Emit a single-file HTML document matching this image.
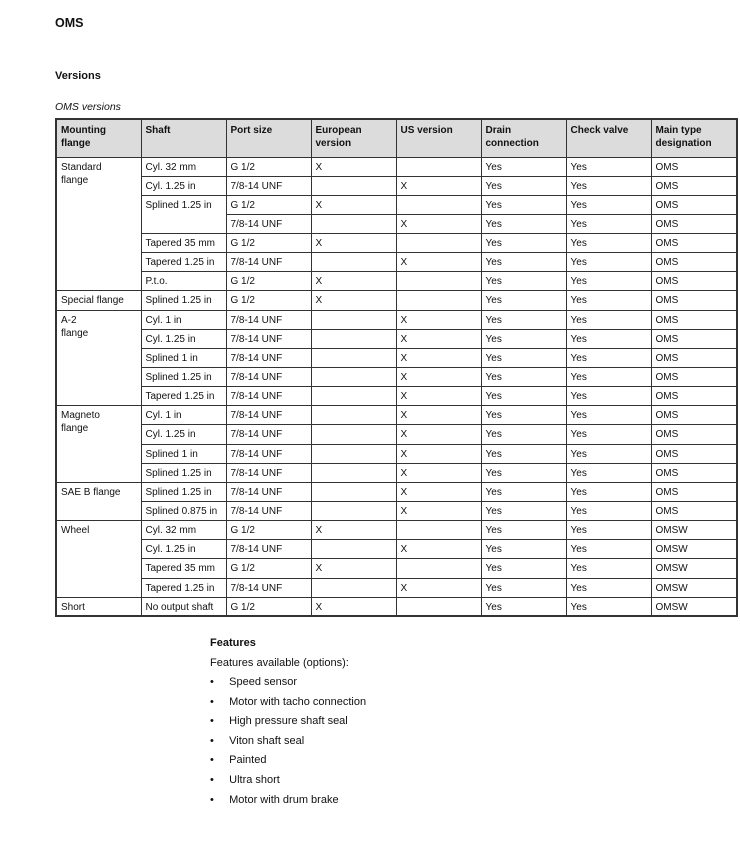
<!DOCTYPE html>
<html><head><meta charset="utf-8"><style>
body{margin:0;width:740px;height:861px;background:#fff;font-family:"Liberation Sans",sans-serif;color:#111;position:relative;overflow:hidden}
.a{position:absolute;white-space:nowrap}
table{position:absolute;left:55px;top:118px;width:681px;border-collapse:collapse;table-layout:fixed;font-size:10px;border:2px solid #333}
td,th{border:1px solid #333;padding:0 0 0 4px;vertical-align:top;text-align:left;line-height:13px}
th{background:#dcdcdc;font-weight:bold;height:38px;padding-top:4px;box-sizing:border-box}
td{height:19.15px;box-sizing:border-box;padding-top:3px}
</style></head><body>
<div class="a" style="left:55px;top:16px;font-size:12.5px;font-weight:bold">OMS</div>
<div class="a" style="left:55px;top:70px;font-size:11px;font-weight:bold">Versions</div>
<div class="a" style="left:55px;top:101px;font-size:10.5px;font-style:italic">OMS versions</div>
<table>
<colgroup><col style="width:85px"><col style="width:85px"><col style="width:85px"><col style="width:85px"><col style="width:85px"><col style="width:85px"><col style="width:85px"><col style="width:86px"></colgroup>
<tr><th>Mounting<br>flange</th><th>Shaft</th><th>Port size</th><th>European<br>version</th><th>US version</th><th>Drain<br>connection</th><th>Check valve</th><th>Main type<br>designation</th></tr>
<tr><td rowspan="7">Standard<br>flange</td><td>Cyl. 32 mm</td><td>G 1/2</td><td>X</td><td></td><td>Yes</td><td>Yes</td><td>OMS</td></tr>
<tr><td>Cyl. 1.25 in</td><td>7/8-14 UNF</td><td></td><td>X</td><td>Yes</td><td>Yes</td><td>OMS</td></tr>
<tr><td rowspan="2">Splined 1.25 in</td><td>G 1/2</td><td>X</td><td></td><td>Yes</td><td>Yes</td><td>OMS</td></tr>
<tr><td>7/8-14 UNF</td><td></td><td>X</td><td>Yes</td><td>Yes</td><td>OMS</td></tr>
<tr><td>Tapered 35 mm</td><td>G 1/2</td><td>X</td><td></td><td>Yes</td><td>Yes</td><td>OMS</td></tr>
<tr><td>Tapered 1.25 in</td><td>7/8-14 UNF</td><td></td><td>X</td><td>Yes</td><td>Yes</td><td>OMS</td></tr>
<tr><td>P.t.o.</td><td>G 1/2</td><td>X</td><td></td><td>Yes</td><td>Yes</td><td>OMS</td></tr>
<tr><td>Special flange</td><td>Splined 1.25 in</td><td>G 1/2</td><td>X</td><td></td><td>Yes</td><td>Yes</td><td>OMS</td></tr>
<tr><td rowspan="5">A-2<br>flange</td><td>Cyl. 1 in</td><td>7/8-14 UNF</td><td></td><td>X</td><td>Yes</td><td>Yes</td><td>OMS</td></tr>
<tr><td>Cyl. 1.25 in</td><td>7/8-14 UNF</td><td></td><td>X</td><td>Yes</td><td>Yes</td><td>OMS</td></tr>
<tr><td>Splined 1 in</td><td>7/8-14 UNF</td><td></td><td>X</td><td>Yes</td><td>Yes</td><td>OMS</td></tr>
<tr><td>Splined 1.25 in</td><td>7/8-14 UNF</td><td></td><td>X</td><td>Yes</td><td>Yes</td><td>OMS</td></tr>
<tr><td>Tapered 1.25 in</td><td>7/8-14 UNF</td><td></td><td>X</td><td>Yes</td><td>Yes</td><td>OMS</td></tr>
<tr><td rowspan="4">Magneto<br>flange</td><td>Cyl. 1 in</td><td>7/8-14 UNF</td><td></td><td>X</td><td>Yes</td><td>Yes</td><td>OMS</td></tr>
<tr><td>Cyl. 1.25 in</td><td>7/8-14 UNF</td><td></td><td>X</td><td>Yes</td><td>Yes</td><td>OMS</td></tr>
<tr><td>Splined 1 in</td><td>7/8-14 UNF</td><td></td><td>X</td><td>Yes</td><td>Yes</td><td>OMS</td></tr>
<tr><td>Splined 1.25 in</td><td>7/8-14 UNF</td><td></td><td>X</td><td>Yes</td><td>Yes</td><td>OMS</td></tr>
<tr><td rowspan="2">SAE B flange</td><td>Splined 1.25 in</td><td>7/8-14 UNF</td><td></td><td>X</td><td>Yes</td><td>Yes</td><td>OMS</td></tr>
<tr><td>Splined 0.875 in</td><td>7/8-14 UNF</td><td></td><td>X</td><td>Yes</td><td>Yes</td><td>OMS</td></tr>
<tr><td rowspan="4">Wheel</td><td>Cyl. 32 mm</td><td>G 1/2</td><td>X</td><td></td><td>Yes</td><td>Yes</td><td>OMSW</td></tr>
<tr><td>Cyl. 1.25 in</td><td>7/8-14 UNF</td><td></td><td>X</td><td>Yes</td><td>Yes</td><td>OMSW</td></tr>
<tr><td>Tapered 35 mm</td><td>G 1/2</td><td>X</td><td></td><td>Yes</td><td>Yes</td><td>OMSW</td></tr>
<tr><td>Tapered 1.25 in</td><td>7/8-14 UNF</td><td></td><td>X</td><td>Yes</td><td>Yes</td><td>OMSW</td></tr>
<tr><td>Short</td><td>No output shaft</td><td>G 1/2</td><td>X</td><td></td><td>Yes</td><td>Yes</td><td>OMSW</td></tr>
</table>
<div class="a" style="left:210px;top:637px;font-size:11px;font-weight:bold">Features</div>
<div class="a" style="left:210px;top:657px;font-size:11px">Features available (options):</div>
<div style="position:absolute;left:210px;top:673px;font-size:11px;line-height:19.6px">
<div>•&nbsp;&nbsp;&nbsp;&nbsp;&nbsp;Speed sensor</div>
<div>•&nbsp;&nbsp;&nbsp;&nbsp;&nbsp;Motor with tacho connection</div>
<div>•&nbsp;&nbsp;&nbsp;&nbsp;&nbsp;High pressure shaft seal</div>
<div>•&nbsp;&nbsp;&nbsp;&nbsp;&nbsp;Viton shaft seal</div>
<div>•&nbsp;&nbsp;&nbsp;&nbsp;&nbsp;Painted</div>
<div>•&nbsp;&nbsp;&nbsp;&nbsp;&nbsp;Ultra short</div>
<div>•&nbsp;&nbsp;&nbsp;&nbsp;&nbsp;Motor with drum brake</div>
</div>
</body></html>
